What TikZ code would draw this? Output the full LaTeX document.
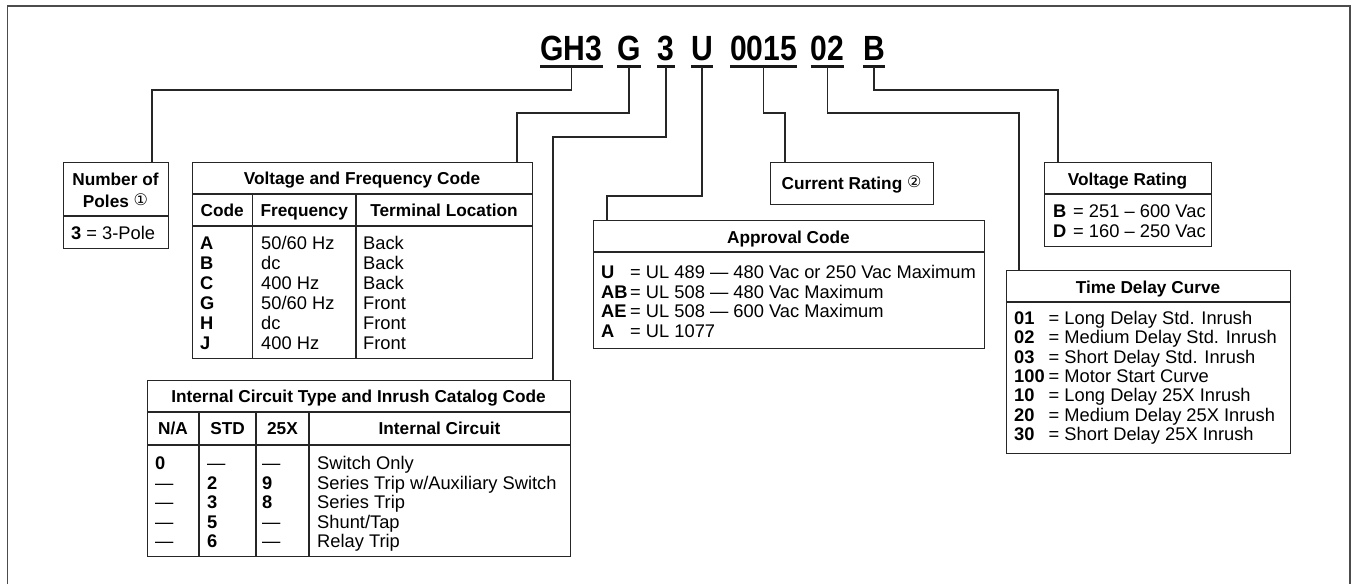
\documentclass[tikz,border=0pt]{standalone}
\usepackage{fontspec}
\setmainfont{Liberation Sans}
\newfontfamily\circfont{DejaVu Sans}
\newcommand\myBody{\fontsize{18.3}{19.6}\selectfont}
\newcommand\myHead{\fontsize{17.25}{22}\selectfont\bfseries}
\newcommand\myCode{\fontsize{35}{40}\selectfont\bfseries}
\newcommand\cnum[1]{{\circfont\mdseries\fontsize{16}{16}\selectfont\raisebox{1.5pt}{#1}}}
\begin{document}
\begin{tikzpicture}[x=1pt,y=-1pt,
  box/.style={draw=black!85, line width=1.2pt, inner sep=0pt, anchor=north west, rectangle},
  rule/.style={draw=black!85, line width=1.2pt},
  conn/.style={draw=black!85, line width=1.3pt},
  frame/.style={draw=black!70, line width=1.8pt},
  ul/.style={draw=black!90, line width=2.5pt},
  txt/.style={inner sep=0pt, anchor=base west, font=\myBody},
  ctxt/.style={inner sep=0pt, anchor=base, font=\myHead},
  codetxt/.style={inner sep=0pt, anchor=base, font=\myCode}]
\useasboundingbox (0,0) rectangle (1356,584);
% frame
\draw[frame] (7.5,584) -- (7.5,6) -- (1350,6) -- (1350,584);

% catalog number segments
\node[codetxt] (gh3)   at (571.5,60) {\scalebox{0.86}[1]{GH3}};
\node[codetxt] (cg)    at (629,60)   {\scalebox{0.86}[1]{G}};
\node[codetxt] (c3)    at (666,60)   {\scalebox{0.86}[1]{3}};
\node[codetxt] (cu)    at (702,60)   {\scalebox{0.86}[1]{U}};
\node[codetxt] (c0015) at (763.5,60) {\scalebox{0.86}[1]{0015}};
\node[codetxt] (c02)   at (827.5,60) {\scalebox{0.86}[1]{02}};
\node[codetxt] (cb)    at (874,60)   {\scalebox{0.86}[1]{B}};
\coordinate (ulY) at (0,66.5);
\foreach \n in {gh3,cg,c3,cu,c0015,c02,cb}
  \draw[ul] (\n.west |- ulY) -- (\n.east |- ulY);

% boxes
\node[box, minimum width=105, minimum height=86]  (poles) at (63,162) {};
\node[box, minimum width=340, minimum height=196] (vf)    at (192,162) {};
\node[box, minimum width=423, minimum height=176] (ic)    at (147,380) {};
\node[box, minimum width=391, minimum height=128] (appr)  at (593,220) {};
\node[box, minimum width=163, minimum height=42]  (cur)   at (770,162) {};
\node[box, minimum width=167, minimum height=84]  (volt)  at (1044,162) {};
\node[box, minimum width=284, minimum height=183] (tdc)   at (1006,270) {};

% table rules
\draw[rule] (63,216) -- (168,216);
\draw[rule] (192,194) -- (532,194);
\draw[rule] (192,226) -- (532,226);
\draw[rule] (252.5,194) -- (252.5,358);
\draw[rule] (356,194) -- (356,358);
\draw[rule] (147,412) -- (570,412);
\draw[rule] (147,445) -- (570,445);
\draw[rule] (199,412) -- (199,556);
\draw[rule] (256,412) -- (256,556);
\draw[rule] (309,412) -- (309,556);
\draw[rule] (593,252) -- (984,252);
\draw[rule] (1044,194) -- (1211,194);
\draw[rule] (1006,302) -- (1290,302);

% Number of poles
\node[ctxt, align=center, anchor=center] (polesT) at (115.5,190) {Number of\\Poles \cnum{①}};
\node[txt] (polesB) at (71,239.5) {\textbf{3} = 3-Pole};

% Voltage and frequency code
\node[ctxt] (vfT) at (362,184.2) {Voltage and Frequency Code};
\node[ctxt] (vfH1) at (222.25,216.2) {Code};
\node[ctxt] (vfH2) at (304.25,216.2) {Frequency};
\node[ctxt] (vfH3) at (444,216.2) {Terminal Location};
\foreach [count=\i from 0] \a/\b/\c in {A/{50/60 Hz}/Back, B/dc/Back, C/{400 Hz}/Back, G/{50/60 Hz}/Front, H/dc/Front, J/{400 Hz}/Front} {
  \pgfmathsetmacro\yy{249.5+20*\i}
  \node[txt] (vfa\i) at (200,\yy) {\textbf{\a}};
  \node[txt] (vfb\i) at (261,\yy) {\b};
  \node[txt] (vfc\i) at (363,\yy) {\c};
}

% Internal circuit
\node[ctxt] (icT) at (358.5,402.2) {Internal Circuit Type and Inrush Catalog Code};
\node[ctxt] (icH1) at (173,434.2) {N/A};
\node[ctxt] (icH2) at (227.5,434.2) {STD};
\node[ctxt] (icH3) at (282.5,434.2) {25X};
\node[ctxt] (icH4) at (439.5,434.2) {Internal Circuit};
\foreach [count=\i from 0] \a/\b/\c/\d in {{\textbf{0}}/—/—/{Switch Only}, —/{\textbf{2}}/{\textbf{9}}/{Series Trip w/Auxiliary Switch}, —/{\textbf{3}}/{\textbf{8}}/{Series Trip}, —/{\textbf{5}}/—/{Shunt/Tap}, —/{\textbf{6}}/—/{Relay Trip}} {
  \pgfmathsetmacro\yy{469.5+19.5*\i}
  \node[txt] (ica\i) at (155,\yy) {\a};
  \node[txt] (icb\i) at (207,\yy) {\b};
  \node[txt] (icc\i) at (262,\yy) {\c};
  \node[txt] (icd\i) at (317,\yy) {\d};
}

% Approval code
\node[ctxt] (apprT) at (788.5,243.2) {Approval Code};
\foreach [count=\i from 0] \a/\b in {U/{= UL 489 — 480 Vac or 250 Vac Maximum}, AB/{= UL 508 — 480 Vac Maximum}, AE/{= UL 508 — 600 Vac Maximum}, A/{= UL 1077}} {
  \pgfmathsetmacro\yy{278.5+19.6*\i}
  \node[txt] (appra\i) at (601,\yy) {\textbf{\a}};
  \node[txt] (apprb\i) at (630,\yy) {\b};
}

% Current rating
\node[ctxt] (curT) at (851.5,189.2) {Current Rating \cnum{②}};

% Voltage rating
\node[ctxt] (voltT) at (1127.5,185.2) {Voltage Rating};
\foreach [count=\i from 0] \a/\b in {B/{= 251 – 600 Vac}, D/{= 160 – 250 Vac}} {
  \pgfmathsetmacro\yy{217.5+20*\i}
  \node[txt] (volta\i) at (1053,\yy) {\textbf{\a}};
  \node[txt] (voltb\i) at (1073,\yy) {\b};
}

% Time delay curve
\node[ctxt] (tdcT) at (1148,293.2) {Time Delay Curve};
\foreach [count=\i from 0] \a/\b in {01/{= Long Delay Std. Inrush}, 02/{= Medium Delay Std. Inrush}, 03/{= Short Delay Std. Inrush}, 100/{= Motor Start Curve}, 10/{= Long Delay 25X Inrush}, 20/{= Medium Delay 25X Inrush}, 30/{= Short Delay 25X Inrush}} {
  \pgfmathsetmacro\yy{324.5+19.35*\i}
  \node[txt] (tdca\i) at (1014,\yy) {\textbf{\a}};
  \node[txt] (tdcb\i) at (1048.5,\yy) {\b};
}

% connector entry points
\coordinate (polesIn) at (152,162);
\coordinate (vfIn)    at (517,162);
\coordinate (icIn)    at (553,380);
\coordinate (apprIn)  at (607,220);
\coordinate (curIn)   at (785,162);
\coordinate (tdcIn)   at (1019,270);
\coordinate (voltIn)  at (1058,162);

% connectors
\draw[conn] (gh3 |- ulY)   -- ++(0,23.5)  -| (polesIn);
\draw[conn] (cg |- ulY)    -- ++(0,46.5)  -| (vfIn);
\draw[conn] (c3 |- ulY)    -- ++(0,70.5)  -| (icIn);
\draw[conn] (cu |- ulY)    -- ++(0,129.5) -| (apprIn);
\draw[conn] (c0015 |- ulY) -- ++(0,46.5)  -| (curIn);
\draw[conn] (c02 |- ulY)   -- ++(0,46.5)  -| (tdcIn);
\draw[conn] (cb |- ulY)    -- ++(0,23.5)  -| (voltIn);
\end{tikzpicture}
\end{document}
